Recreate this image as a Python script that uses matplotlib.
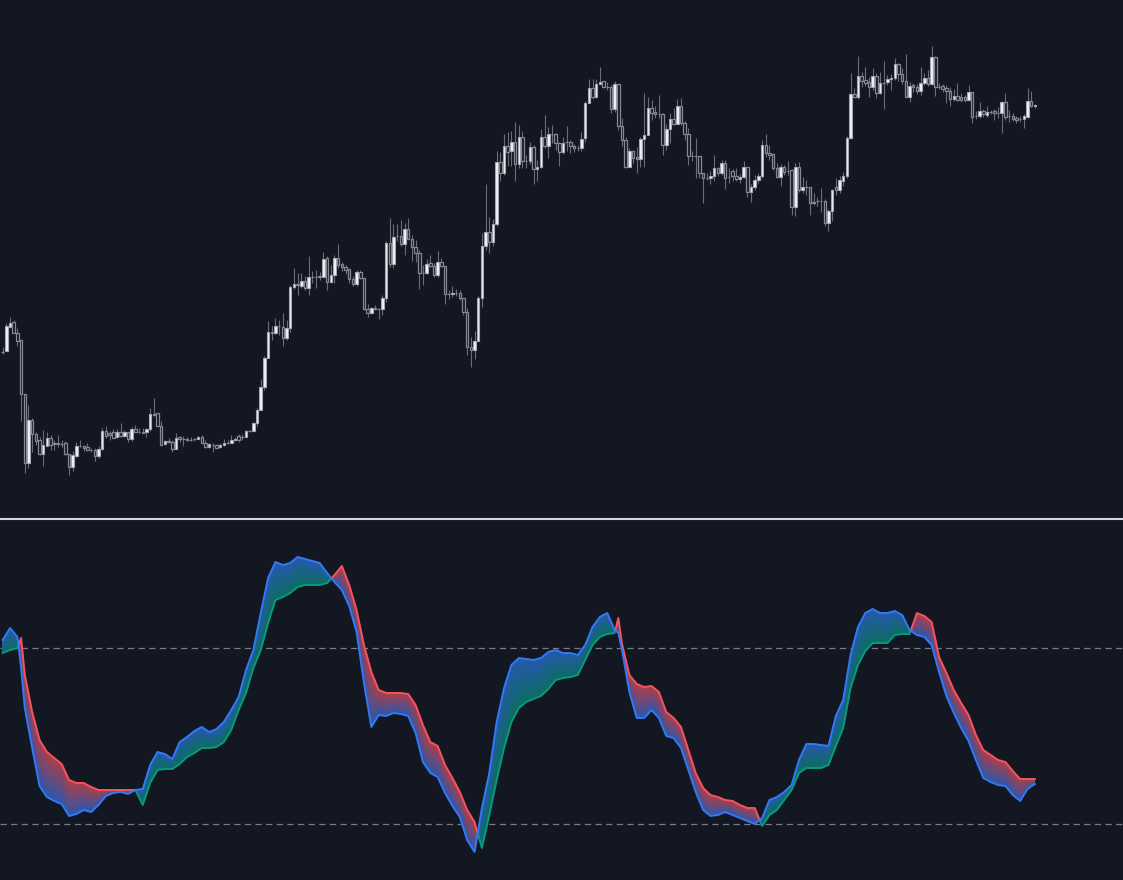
import matplotlib.pyplot as plt
import numpy as np
from matplotlib.colors import to_rgb

# candle readings (vertical chart scale, smaller = higher price)
opens = [352, 351, 327, 322, 333, 340, 394, 463, 420, 434, 440, 454, 446, 438, 443, 443, 444, 443, 454, 467,
         456, 446, 446, 447, 450, 450, 456, 449, 431, 433, 432, 437, 432, 436, 432, 439, 429, 432, 432, 432,
         429, 414, 413, 426, 444, 441, 442, 449, 437, 439, 439, 440, 439, 439, 437, 443, 447, 445, 445, 447,
         445, 443, 443, 440, 436, 437, 437, 431, 431, 423, 410, 387, 358, 332, 333, 326, 327, 338, 328, 287,
         284, 286, 281, 288, 277, 277, 276, 277, 258, 282, 275, 258, 264, 267, 269, 279, 284, 272, 278, 309,
         313, 308, 309, 309, 298, 243, 264, 236, 236, 244, 229, 239, 247, 253, 273, 273, 263, 266, 275, 262,
         266, 294, 294, 293, 293, 298, 312, 347, 350, 341, 298, 246, 232, 242, 224, 162, 173, 146, 151, 142,
         164, 137, 161, 161, 147, 169, 167, 137, 146, 134, 134, 143, 152, 142, 142, 146, 148, 148, 138, 103,
         88, 97, 84, 81, 87, 87, 109, 84, 126, 140, 167, 151, 157, 159, 139, 135, 108, 112, 114, 114,
         145, 129, 119, 124, 106, 123, 134, 156, 156, 156, 173, 178, 178, 176, 168, 173, 163, 177, 171, 176,
         179, 177, 167, 192, 187, 180, 176, 145, 153, 154, 168, 177, 167, 171, 170, 207, 167, 190, 187, 187,
         202, 201, 201, 201, 223, 211, 187, 190, 181, 176, 138, 94, 97, 76, 80, 82, 87, 76, 93, 83,
         82, 79, 78, 64, 74, 81, 97, 85, 87, 91, 83, 78, 84, 57, 87, 86, 88, 91, 99, 96,
         97, 97, 100, 92, 116, 116, 111, 115, 112, 111, 113, 113, 102, 116, 116, 118, 119, 119, 117, 101,
         106]
closes = [352, 326, 323, 333, 341, 394, 463, 420, 434, 441, 454, 445, 438, 445, 444, 444, 444, 454, 467, 455,
          446, 446, 448, 450, 450, 456, 449, 431, 436, 435, 438, 432, 436, 432, 439, 429, 432, 432, 433, 429,
          414, 415, 426, 445, 441, 442, 449, 438, 439, 439, 440, 440, 439, 437, 443, 447, 444, 445, 448, 445,
          443, 443, 440, 439, 440, 437, 431, 431, 423, 410, 387, 358, 332, 333, 326, 326, 338, 328, 287, 284,
          285, 281, 288, 277, 277, 277, 277, 259, 282, 275, 258, 265, 267, 270, 279, 284, 272, 278, 309, 313,
          308, 309, 309, 298, 243, 264, 237, 236, 244, 229, 239, 247, 253, 273, 273, 264, 266, 275, 262, 266,
          294, 294, 293, 293, 298, 312, 347, 350, 341, 298, 246, 232, 242, 224, 162, 173, 146, 152, 142, 164,
          137, 161, 161, 147, 169, 167, 137, 146, 134, 134, 143, 152, 143, 142, 146, 148, 148, 139, 103, 88,
          97, 84, 82, 87, 87, 109, 84, 126, 140, 167, 151, 158, 159, 139, 135, 108, 113, 114, 114, 145,
          129, 119, 124, 106, 123, 134, 156, 156, 156, 173, 178, 178, 176, 168, 173, 163, 178, 177, 176, 179,
          177, 167, 192, 187, 180, 176, 145, 153, 155, 168, 177, 167, 172, 171, 207, 167, 190, 187, 187, 203,
          203, 201, 201, 223, 211, 190, 190, 180, 176, 138, 94, 97, 76, 81, 83, 87, 76, 93, 83, 83,
          79, 78, 64, 74, 81, 97, 86, 87, 91, 83, 78, 84, 57, 87, 87, 89, 91, 99, 96, 100,
          100, 100, 92, 117, 116, 111, 114, 112, 112, 113, 113, 102, 117, 116, 119, 120, 119, 116, 101, 106,
          105]
highs = [347, 323, 317, 320, 328, 340, 394, 405, 418, 432, 437, 430, 432, 435, 440, 435, 440, 441, 454, 451,
         442, 440, 445, 443, 448, 448, 446, 428, 426, 431, 429, 429, 423, 430, 432, 427, 425, 428, 428, 428,
         408, 398, 413, 421, 440, 438, 440, 433, 436, 436, 437, 437, 438, 436, 435, 440, 443, 443, 444, 443,
         439, 440, 435, 437, 434, 434, 430, 430, 422, 408, 379, 356, 321, 326, 318, 320, 313, 320, 285, 268,
         273, 273, 276, 256, 271, 270, 272, 252, 256, 265, 255, 244, 262, 265, 269, 276, 270, 270, 278, 304,
         307, 305, 308, 295, 241, 218, 224, 224, 220, 223, 218, 235, 240, 250, 265, 259, 255, 263, 251, 258,
         266, 290, 286, 289, 290, 298, 308, 337, 331, 296, 233, 184, 217, 219, 151, 152, 134, 132, 131, 122,
         125, 131, 155, 142, 145, 160, 129, 115, 127, 125, 133, 142, 137, 126, 140, 144, 145, 132, 101, 79,
         79, 79, 67, 81, 82, 85, 81, 84, 118, 137, 148, 150, 147, 137, 93, 97, 100, 106, 95, 113,
         124, 113, 108, 99, 98, 121, 128, 151, 138, 156, 173, 173, 171, 155, 167, 160, 160, 168, 169, 168,
         174, 161, 167, 184, 175, 173, 140, 134, 145, 153, 163, 164, 165, 161, 169, 163, 162, 177, 180, 187,
         193, 197, 188, 199, 209, 189, 178, 176, 172, 136, 73, 88, 56, 72, 67, 77, 68, 73, 72, 61,
         75, 74, 58, 63, 68, 54, 82, 83, 84, 67, 73, 70, 46, 56, 83, 84, 85, 87, 89, 83,
         93, 95, 85, 92, 111, 102, 109, 106, 110, 109, 107, 101, 93, 110, 113, 116, 116, 114, 88, 91,
         104]
lows = [354, 351, 327, 333, 346, 421, 473, 468, 452, 445, 455, 466, 446, 450, 450, 447, 447, 455, 475, 471,
        457, 447, 451, 451, 452, 461, 458, 450, 438, 440, 438, 438, 437, 437, 442, 441, 432, 433, 433, 437,
        431, 416, 426, 446, 445, 443, 452, 449, 442, 446, 441, 441, 441, 439, 443, 448, 448, 452, 448, 448,
        446, 444, 443, 441, 442, 440, 437, 432, 431, 426, 410, 390, 358, 340, 334, 335, 346, 340, 332, 289,
        295, 288, 290, 295, 283, 288, 280, 277, 290, 283, 283, 268, 271, 274, 283, 286, 286, 279, 310, 317,
        314, 310, 319, 315, 302, 267, 268, 241, 246, 255, 239, 261, 262, 289, 285, 274, 267, 277, 277, 267,
        304, 299, 297, 296, 300, 315, 355, 367, 359, 341, 307, 250, 253, 246, 226, 181, 175, 166, 166, 181,
        168, 168, 168, 164, 184, 181, 168, 148, 158, 143, 150, 166, 154, 151, 153, 152, 151, 151, 142, 103,
        99, 98, 84, 88, 90, 113, 112, 130, 146, 168, 167, 163, 173, 167, 167, 135, 120, 118, 118, 155,
        150, 143, 125, 124, 125, 140, 165, 161, 178, 178, 203, 180, 184, 181, 176, 175, 189, 183, 181, 181,
        183, 178, 197, 202, 190, 183, 178, 157, 160, 170, 178, 186, 175, 175, 215, 216, 192, 193, 195, 215,
        205, 206, 212, 226, 231, 221, 195, 193, 186, 178, 139, 98, 99, 87, 86, 97, 90, 98, 94, 109,
        85, 90, 80, 81, 84, 97, 102, 92, 94, 95, 85, 86, 85, 96, 89, 92, 103, 106, 101, 101,
        102, 102, 101, 123, 119, 118, 117, 117, 114, 120, 118, 133, 120, 122, 121, 123, 122, 128, 118, 107,
        108]

# oscillator readings, mostly every second bar (same vertical reading scale)
osc_bar = ([0, 2, 4, 5] + list(range(6, 167, 2)) + [167] + list(range(168, 281, 2)))
fast = [640, 628, 637, 668, 708, 748, 786, 797, 801, 804, 816,
        814, 810, 812, 805, 796, 793, 792, 794, 790, 789,
        765, 752, 754, 759, 742, 737, 731, 727, 732, 729,
        722, 710, 697, 670, 650, 613, 578, 562, 565, 563,
        557, 559, 561, 563, 573, 582, 590, 606, 632, 683,
        727, 715, 716, 713, 714, 716, 733, 762, 773, 777,
        793, 806, 817, 840, 852, 808, 773, 722, 688, 665,
        658, 659, 660, 658, 652, 650, 653, 653, 655, 645,
        627, 617, 613, 630, 633, 650, 692, 718, 718, 710, 718,
        736, 738, 748, 770, 792, 810, 816, 815, 812, 815,
        818, 821, 824, 818, 800, 797, 792, 785, 760, 744,
        744, 745, 746, 716, 700, 655, 627, 613, 609, 613,
        613, 611, 615, 630, 635, 637, 645, 672, 696, 713,
        728, 741, 760, 778, 782, 785, 786, 795, 801, 789, 784]
slow = [653, 650, 648, 638, 675, 712, 740, 752, 758, 764, 780,
        783, 783, 787, 790, 790, 790, 790, 790, 790, 805,
        783, 770, 769, 769, 764, 757, 753, 748, 748, 747,
        742, 730, 710, 693, 668, 650, 623, 600, 597, 593,
        587, 585, 585, 585, 583, 575, 566, 585, 610, 645,
        672, 690, 693, 693, 693, 694, 705, 725, 742, 746,
        765, 778, 792, 810, 822, 848, 815, 780, 748, 722,
        708, 702, 699, 696, 689, 680, 678, 677, 675, 660,
        645, 637, 634, 633, 618, 644, 675, 684, 687, 686, 692,
        712, 718, 727, 750, 773, 788, 795, 797, 800, 801,
        805, 808, 808, 826, 815, 810, 800, 790, 773, 768,
        768, 768, 765, 746, 728, 688, 665, 651, 643, 643,
        643, 635, 634, 634, 613, 616, 622, 657, 673, 690,
        703, 715, 735, 750, 755, 760, 762, 771, 779, 779, 779]
levels = [648, 824]

bg = '#131722'
blue = '#3179f5'
teal = '#089981'
red = '#f7525f'

fig = plt.figure(figsize=(11.23, 8.8), dpi=100, facecolor=bg)
ax1 = fig.add_axes([0, 363 / 880, 1, 517 / 880])
ax2 = fig.add_axes([0, 0, 1, 360 / 880])

# candles
o = np.array(opens, float)
c = np.array(closes, float)
h = np.array(highs, float)
l = np.array(lows, float)
idx = np.arange(len(o))
up = c < o
lo = np.minimum(o, c)
hh = np.maximum(np.abs(c - o), 0.4)

ax1.vlines(idx, h, l, color='#6b6e79', lw=0.8, zorder=1)
ax1.bar(idx[up], hh[up], bottom=lo[up], width=0.68, color='#f2f3f5',
        edgecolor='#a3a6af', lw=0.8, zorder=2)
ax1.bar(idx[~up], hh[~up], bottom=lo[~up], width=0.68, color=bg,
        edgecolor='#868994', lw=0.9, zorder=2)
ax1.set_ylim(517, 0)

# oscillator, crossing points added so colours switch cleanly
xs = np.array(osc_bar, float)
f = np.array(fast, float)
s = np.array(slow, float)
d = s - f
X, F, S = [xs[0]], [f[0]], [s[0]]
for i in range(1, len(xs)):
    if d[i - 1] * d[i] < 0:
        t = d[i - 1] / (d[i - 1] - d[i])
        xc = xs[i - 1] + t * (xs[i] - xs[i - 1])
        yc = f[i - 1] + t * (f[i] - f[i - 1])
        X.append(xc); F.append(yc); S.append(yc)
    X.append(xs[i]); F.append(f[i]); S.append(s[i])
X, F, S = np.array(X), np.array(F), np.array(S)
D = S - F
bull = D >= 0
bear = D <= 0


def mix(c1, c2, t, a=0.66):
    c1, c2, b = np.array(to_rgb(c1)), np.array(to_rgb(c2)), np.array(to_rgb(bg))
    col = c1 * (1 - t) + c2 * t
    return tuple(b * (1 - a) + col * a)


n = 30
for k in range(n):
    ya = F + (S - F) * k / n
    yb = F + (S - F) * (k + 1) / n
    cb = mix(blue, teal, (k + 0.5) / n)
    cr = mix(blue, red, (k + 0.5) / n)
    ax2.fill_between(X, ya, yb, where=bull, color=cb, lw=0, antialiased=False, zorder=1)
    ax2.fill_between(X, ya, yb, where=bear, color=cr, lw=0, antialiased=False, zorder=1)

for lv in levels:
    ax2.axhline(lv, color='#787b86', lw=0.9, ls=(0, (5, 3.5)), zorder=0)

ax2.plot(X, np.where(bull, S, np.nan), color=teal, lw=1.4, zorder=3)
ax2.plot(X, np.where(bear, S, np.nan), color=red, lw=1.4, zorder=3)
ax2.plot(X, F, color=blue, lw=1.4, zorder=4)
ax2.set_ylim(880, 520)

for ax in (ax1, ax2):
    ax.set_xlim(-0.73, 303.9)
    ax.axis('off')

fig.add_artist(plt.Line2D([0, 1], [1 - 518.5 / 880] * 2, transform=fig.transFigure,
                          color='#d1d4dc', lw=1.5))

fig.savefig('out.png', dpi=100, facecolor=bg)
